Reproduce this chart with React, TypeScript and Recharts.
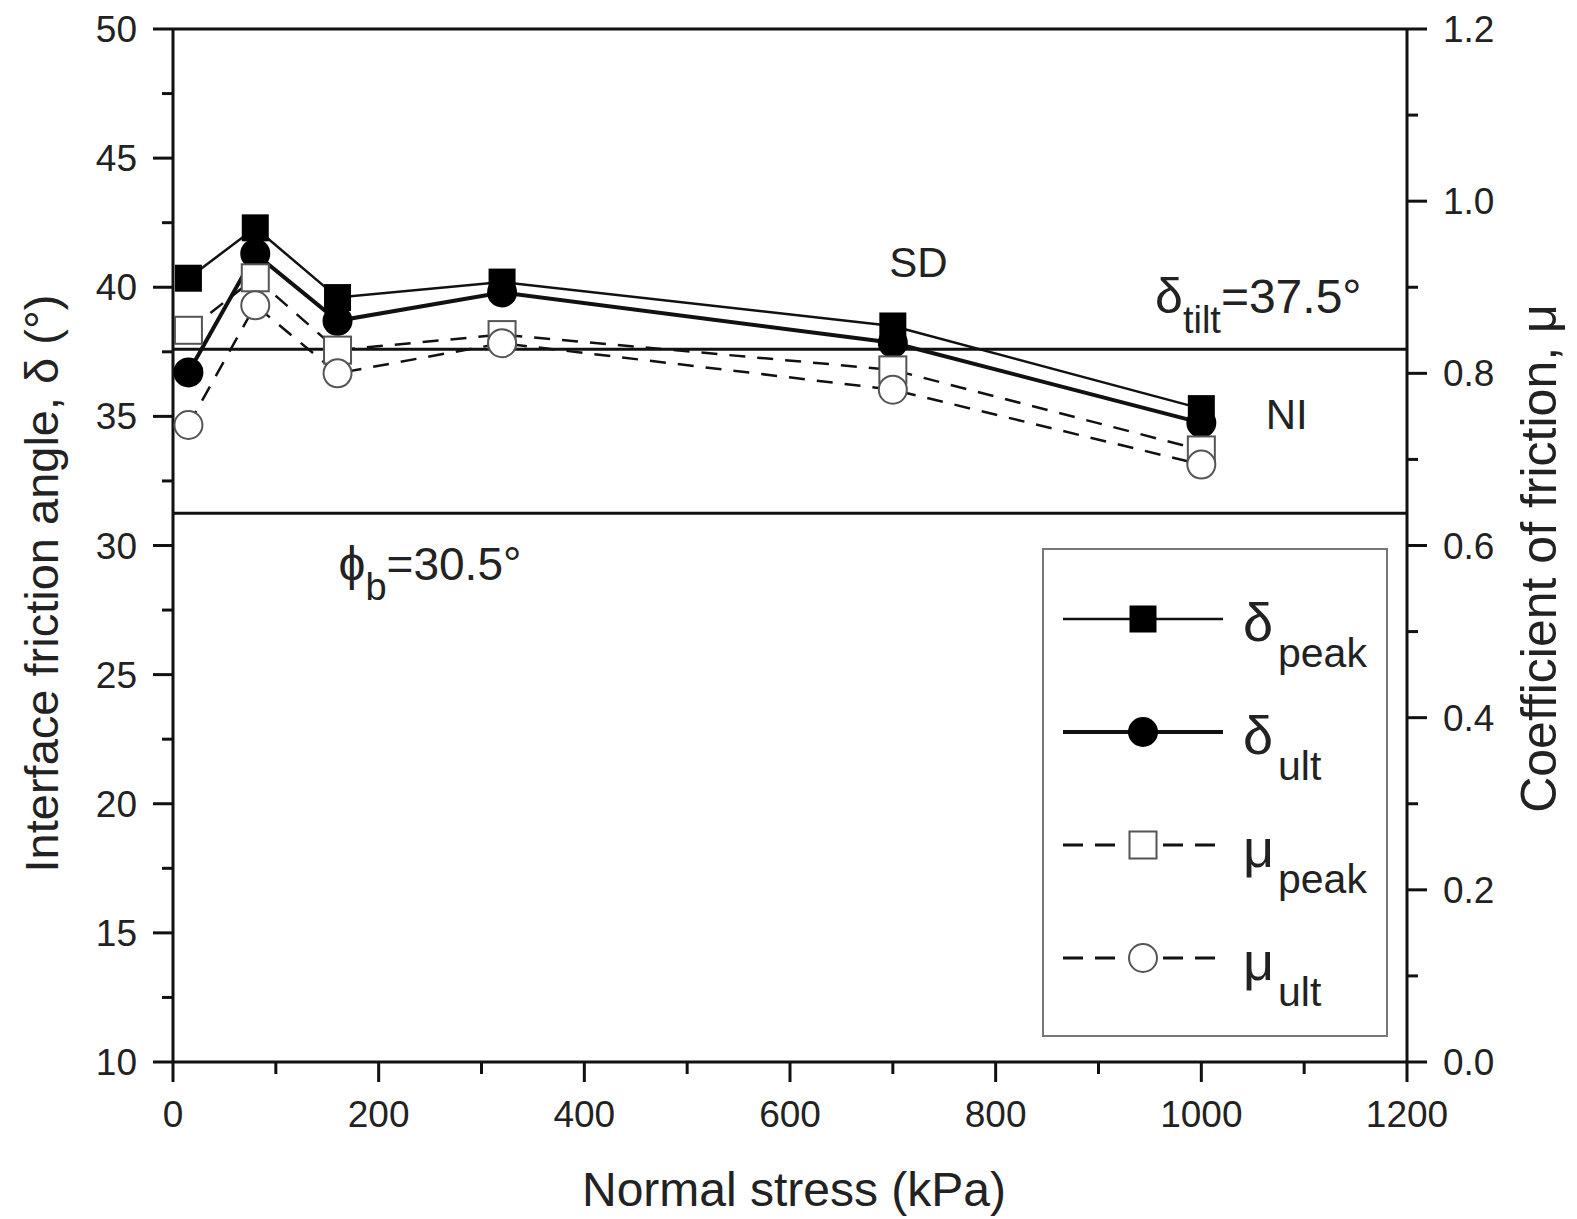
import React from 'react';
import { LineChart, Line, XAxis, YAxis, ReferenceLine, ReferenceDot, Legend } from 'recharts';

const FONT = '"Liberation Sans", Arial, Helvetica, sans-serif';
const INK = '#111';

// ---- data ----
const stress = [15, 80, 160, 320, 700, 1000];
const deltaPeak = [40.35, 42.3, 39.6, 40.2, 38.5, 35.3];
const deltaUlt = [36.7, 41.3, 38.7, 39.8, 37.85, 34.75];
const muPeak = [0.85, 0.911, 0.827, 0.845, 0.804, 0.711];
const muUlt = [0.74, 0.879, 0.8, 0.835, 0.781, 0.694];

const xTicks = [0, 100, 200, 300, 400, 500, 600, 700, 800, 900, 1000, 1100, 1200];
const leftTicks = [10, 12.5, 15, 17.5, 20, 22.5, 25, 27.5, 30, 32.5, 35, 37.5, 40, 42.5, 45, 47.5, 50];
const rightTicks = [0, 0.1, 0.2, 0.3, 0.4, 0.5, 0.6, 0.7, 0.8, 0.9, 1.0, 1.1, 1.2];

const deltaTiltLine = 37.6;
const phiBLine = 31.25;
const topBorder = 50;

const annotations = [
  { id: 'SD', x: 725, y: 40.4, parts: [{ t: 'SD', size: 42 }], anchor: 'middle' },
  { id: 'NI', x: 1083, y: 34.5, parts: [{ t: 'NI', size: 42 }], anchor: 'middle' },
  { id: 'tilt', x: 955, y: 39.0, parts: [{ t: 'δ', size: 50 }, { t: 'tilt', size: 38, sub: true }, { t: '=37.5°', size: 48 }], anchor: 'start', baseline: true },
  { id: 'phi', x: 161, y: 28.67, parts: [{ t: 'ϕ', size: 48 }, { t: 'b', size: 38, sub: true }, { t: '=30.5°', size: 46 }], anchor: 'start', baseline: true },
];

const seriesMeta = [
  { key: 'deltaPeak', main: 'δ', sub: 'peak', marker: 'square', filled: true, width: 2.5, dash: undefined },
  { key: 'deltaUlt', main: 'δ', sub: 'ult', marker: 'circle', filled: true, width: 4, dash: undefined },
  { key: 'muPeak', main: 'μ', sub: 'peak', marker: 'square', filled: false, width: 2.5, dash: '16 12' },
  { key: 'muUlt', main: 'μ', sub: 'ult', marker: 'circle', filled: false, width: 2.5, dash: '16 12' },
];

const data = stress.map((s, i) => ({
  stress: s,
  deltaPeak: deltaPeak[i],
  deltaUlt: deltaUlt[i],
  muPeak: muPeak[i],
  muUlt: muUlt[i],
}));

// ---- markers ----
const drawMarker = (kind: string, filled: boolean, cx: number, cy: number, key?: any) => {
  if (kind === 'square') {
    return (
      <rect key={key} x={cx - 13.5} y={cy - 13.5} width={27} height={27}
        fill={filled ? '#000' : '#fff'} stroke={filled ? '#000' : '#555'} strokeWidth={filled ? 0 : 2} />
    );
  }
  return (
    <circle key={key} cx={cx} cy={cy} r={filled ? 15 : 14}
      fill={filled ? '#000' : '#fff'} stroke={filled ? '#000' : '#555'} strokeWidth={filled ? 0 : 2} />
  );
};

const dotRenderer = (kind: string, filled: boolean) => (props: any) => {
  const { cx, cy, index } = props;
  if (cx == null || cy == null) return <g key={`e${index}`} />;
  return drawMarker(kind, filled, cx, cy, `${kind}${filled}${index}`);
};

// ---- ticks ----
const XTick = (props: any) => {
  const { x, y, payload } = props;
  const v = payload.value;
  const major = Math.round(v) % 200 === 0;
  return (
    <g>
      <line x1={x} y1={y} x2={x} y2={y + (major ? 20 : 12)} stroke={INK} strokeWidth={3} />
      {major && (
        <text x={x} y={y + 65} textAnchor="middle" fontSize={37} fontFamily={FONT} fill="#222">{v}</text>
      )}
    </g>
  );
};

const LeftTick = (props: any) => {
  const { x, y, payload } = props;
  const v = payload.value;
  const major = Math.abs(v % 5) < 1e-6;
  return (
    <g>
      <line x1={x - (major ? 20 : 11)} y1={y} x2={x} y2={y} stroke={INK} strokeWidth={3} />
      {major && (
        <text x={x - 36} y={y + 13} textAnchor="end" fontSize={37} fontFamily={FONT} fill="#222">{v}</text>
      )}
    </g>
  );
};

const RightTick = (props: any) => {
  const { x, y, payload } = props;
  const v = payload.value;
  const major = Math.round(v * 10) % 2 === 0;
  return (
    <g>
      <line x1={x} y1={y} x2={x + (major ? 20 : 11)} y2={y} stroke={INK} strokeWidth={3} />
      {major && (
        <text x={x + 36} y={y + 13} textAnchor="start" fontSize={37} fontFamily={FONT} fill="#222">{v.toFixed(1)}</text>
      )}
    </g>
  );
};

// ---- axis titles ----
const XTitle = (props: any) => {
  const vb = props.viewBox || {};
  return (
    <text x={vb.x + vb.width / 2 + 4} y={vb.y + 144} textAnchor="middle" fontSize={48} fontFamily={FONT} fill="#222">
      Normal stress (kPa)
    </text>
  );
};

const LeftTitle = (props: any) => {
  const vb = props.viewBox || {};
  const x = vb.x + 50;
  const y = vb.y + vb.height / 2 + 38;
  return (
    <text x={x} y={y} transform={`rotate(-90, ${x}, ${y})`} textAnchor="middle" fontSize={47} fontFamily={FONT} fill="#222">
      Interface friction angle, δ (°)
    </text>
  );
};

const RightTitle = (props: any) => {
  const vb = props.viewBox || {};
  const x = vb.x + 149;
  const y = vb.y + vb.height / 2 + 13;
  return (
    <text x={x} y={y} transform={`rotate(-90, ${x}, ${y})`} textAnchor="middle" fontSize={50} fontFamily={FONT} fill="#222">
      Coefficient of friction, μ
    </text>
  );
};

// ---- annotation text ----
const annotationShape = (a: any) => (props: any) => {
  const { cx, cy } = props;
  if (cx == null || cy == null) return <g />;
  let shift = 0;
  return (
    <text x={cx} y={cy} textAnchor={a.anchor} dy={a.baseline ? 0 : '0.36em'} fontFamily={FONT} fill="#222">
      {a.parts.map((p: any, i: number) => {
        let dy = 0;
        if (p.sub && shift === 0) { dy = 20; shift = 20; }
        else if (!p.sub && shift !== 0) { dy = -shift; shift = 0; }
        return (
          <tspan key={i} fontSize={p.size} dy={dy}>{p.t}</tspan>
        );
      })}
    </text>
  );
};

// ---- legend ----
const LegendBox = (props: any) => {
  const payload = props.payload || [];
  const entries = seriesMeta.filter((m) => payload.length === 0 || payload.some((p: any) => p.dataKey === m.key));
  return (
    <div style={{ width: 346, height: 489, border: '2px solid #777', boxSizing: 'border-box', background: '#fff' }}>
      <svg width={342} height={485} style={{ display: 'block' }}>
        {entries.map((m, i) => {
          const y = 69 + i * 113;
          return (
            <g key={m.key}>
              {m.dash ? (
                <g>
                  <line x1={19} y1={y} x2={81} y2={y} stroke={INK} strokeWidth={3} strokeDasharray="20 12" />
                  <line x1={119} y1={y} x2={181} y2={y} stroke={INK} strokeWidth={3} strokeDasharray="20 12" />
                </g>
              ) : (
                <line x1={19} y1={y} x2={179} y2={y} stroke={INK} strokeWidth={m.width} />
              )}
              {drawMarker(m.marker, m.filled, 99, y)}
              <text x={199} y={y + 22} fontSize={54} fontFamily={FONT} fill="#222">{m.main}</text>
              <text x={234} y={y + 48} fontSize={41} fontFamily={FONT} fill="#222">{m.sub}</text>
            </g>
          );
        })}
      </svg>
    </div>
  );
};

export default function App() {
  return (
    <div style={{ width: 1569, height: 1211, background: '#fff' }}>
      <LineChart width={1569} height={1211} data={data} margin={{ top: 21, right: 0, bottom: 0, left: 0 }}>
        <XAxis dataKey="stress" type="number" domain={[0, 1200]} ticks={xTicks} interval={0}
          tick={(p: any) => <XTick {...p} />} tickLine={false} tickSize={0} tickMargin={0}
          axisLine={{ stroke: INK, strokeWidth: 3 }} height={157} label={(p: any) => <XTitle {...p} />} />
        <YAxis yAxisId="left" orientation="left" domain={[10, 50]} ticks={leftTicks} interval={0} width={165}
          tick={(p: any) => <LeftTick {...p} />} tickLine={false} tickSize={0} tickMargin={0}
          axisLine={{ stroke: INK, strokeWidth: 3 }} label={(p: any) => <LeftTitle {...p} />} />
        <YAxis yAxisId="right" orientation="right" domain={[0, 1.2]} ticks={rightTicks} interval={0} width={170}
          tick={(p: any) => <RightTick {...p} />} tickLine={false} tickSize={0} tickMargin={0}
          axisLine={{ stroke: INK, strokeWidth: 3 }} label={(p: any) => <RightTitle {...p} />} />

        <ReferenceLine yAxisId="left" y={topBorder} stroke={INK} strokeWidth={3} />
        <ReferenceLine yAxisId="left" y={deltaTiltLine} stroke={INK} strokeWidth={3} />
        <ReferenceLine yAxisId="left" y={phiBLine} stroke={INK} strokeWidth={3} />

        {seriesMeta.map((m) => (
          <Line key={m.key} yAxisId={m.key.startsWith('delta') ? 'left' : 'right'} dataKey={m.key} name={m.main + m.sub}
            type="linear" stroke={INK} strokeWidth={m.width} strokeDasharray={m.dash}
            dot={dotRenderer(m.marker, m.filled)} activeDot={false} isAnimationActive={false} />
        ))}

        {annotations.map((a) => (
          <ReferenceDot key={a.id} yAxisId="left" x={a.x} y={a.y} r={0} shape={annotationShape(a)} />
        ))}

        <Legend layout="vertical" align="center" verticalAlign="middle"
          wrapperStyle={{ left: 1034, top: 540, width: 346, height: 489 }}
          content={(p: any) => <LegendBox {...p} />} />
      </LineChart>
    </div>
  );
}
